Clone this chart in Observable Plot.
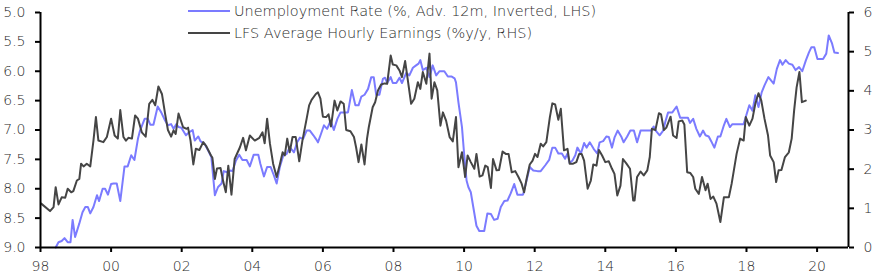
<!DOCTYPE html>
<html><head><meta charset="utf-8">
<script src="https://cdn.jsdelivr.net/npm/d3@7"></script>
<script src="https://cdn.jsdelivr.net/npm/@observablehq/plot@0.6"></script>
<style>
body{margin:0;background:#fff;}
#chart{position:relative;width:876px;height:276px;font-family:"DejaVu Sans",sans-serif;}
#chart svg text{fill:#2a2a2a;font-weight:200;}
.legend{position:absolute;left:188px;top:0;font-size:14.45px;color:#2a2a2a;font-family:"DejaVu Sans",sans-serif;font-weight:200;}
.legend .row{display:flex;align-items:center;height:22px;white-space:nowrap;}
.legend .sw{width:42px;height:2px;margin-right:4px;}
</style></head><body><div id="chart"></div>
<script>
const blue = "#7b7bff";
const gray = "#454545";
const xDomain = [1998, 2020.89];
const leftDomain = [5, 9];
const rightDomain = [0, 6];
const leftTicks = [5, 5.5, 6, 6.5, 7, 7.5, 8, 8.5, 9];
const rightTicks = [0, 1, 2, 3, 4, 5, 6];
const xTicks = [1998, 2000, 2002, 2004, 2006, 2008, 2010, 2012, 2014, 2016, 2018, 2020];
const legendLabels = ["Unemployment Rate (%, Adv. 12m, Inverted, LHS)", "LFS Average Hourly Earnings (%y/y, RHS)"];

// LFS Average Hourly Earnings (%y/y, RHS)
const earnDates = [1998.02,1998.27,1998.37,1998.43,1998.51,1998.60,1998.70,1998.77,1998.87,1998.93,1999.03,1999.10,1999.15,1999.22,1999.31,1999.41,1999.50,1999.57,1999.64,1999.78,1999.88,2000.00,2000.10,2000.19,2000.26,2000.35,2000.42,2000.49,2000.59,2000.68,2000.76,2000.87,2000.98,2001.08,2001.17,2001.25,2001.34,2001.44,2001.53,2001.61,2001.70,2001.77,2001.83,2001.91,2002.04,2002.14,2002.18,2002.25,2002.33,2002.40,2002.50,2002.61,2002.70,2002.83,2002.87,2002.94,2003.00,2003.10,2003.18,2003.25,2003.32,2003.41,2003.50,2003.65,2003.74,2003.82,2003.93,2004.07,2004.20,2004.29,2004.35,2004.42,2004.50,2004.59,2004.69,2004.78,2004.86,2004.92,2004.99,2005.06,2005.14,2005.23,2005.33,2005.42,2005.54,2005.61,2005.68,2005.80,2005.86,2005.93,2006.00,2006.09,2006.16,2006.23,2006.33,2006.41,2006.50,2006.59,2006.66,2006.78,2006.88,2006.94,2007.01,2007.09,2007.18,2007.25,2007.30,2007.41,2007.48,2007.56,2007.65,2007.75,2007.82,2007.92,2007.98,2008.08,2008.17,2008.24,2008.33,2008.40,2008.50,2008.59,2008.69,2008.76,2008.83,2008.93,2009.02,2009.08,2009.16,2009.24,2009.33,2009.40,2009.49,2009.59,2009.68,2009.77,2009.84,2009.94,2010.03,2010.10,2010.19,2010.29,2010.35,2010.44,2010.52,2010.60,2010.67,2010.76,2010.82,2010.92,2010.99,2011.09,2011.18,2011.26,2011.35,2011.45,2011.54,2011.63,2011.70,2011.77,2011.86,2011.94,2012.01,2012.08,2012.17,2012.24,2012.33,2012.43,2012.50,2012.58,2012.67,2012.74,2012.83,2012.93,2012.99,2013.09,2013.18,2013.26,2013.33,2013.40,2013.50,2013.59,2013.66,2013.75,2013.82,2013.91,2014.00,2014.10,2014.19,2014.26,2014.34,2014.43,2014.50,2014.60,2014.70,2014.79,2014.83,2014.90,2015.00,2015.09,2015.19,2015.26,2015.32,2015.42,2015.52,2015.58,2015.66,2015.73,2015.85,2015.92,2016.02,2016.08,2016.18,2016.24,2016.32,2016.41,2016.49,2016.55,2016.65,2016.74,2016.84,2016.90,2016.98,2017.06,2017.15,2017.26,2017.36,2017.50,2017.58,2017.72,2017.82,2017.92,2017.98,2018.08,2018.17,2018.25,2018.34,2018.42,2018.51,2018.61,2018.67,2018.77,2018.84,2018.91,2018.99,2019.09,2019.20,2019.28,2019.35,2019.42,2019.50,2019.57,2019.68];
const earnValues = [1.12,0.93,1.03,1.54,1.10,1.28,1.27,1.50,1.41,1.44,1.71,1.75,2.14,2.07,2.14,2.07,2.73,3.33,2.73,2.69,2.82,3.29,2.86,2.78,3.51,2.82,2.73,2.80,2.78,3.37,3.29,2.94,2.83,3.67,3.77,3.63,4.11,3.92,3.41,3.00,2.83,2.99,2.90,3.42,3.07,3.03,3.06,2.73,2.12,2.52,2.49,2.69,2.58,2.35,2.29,1.75,2.02,2.03,1.67,1.41,2.09,1.35,2.26,2.56,2.80,2.48,2.86,2.73,2.80,2.94,2.66,3.29,2.65,2.14,1.80,2.12,2.43,2.35,2.78,2.43,2.82,2.82,2.20,2.73,3.29,3.63,3.77,3.92,3.96,3.80,3.34,3.33,3.40,3.09,3.75,3.50,3.73,3.67,3.00,2.97,2.82,2.56,2.18,2.63,2.12,2.78,3.07,3.58,3.71,4.01,4.16,4.19,4.18,4.90,4.67,4.65,4.52,4.35,4.76,4.31,3.67,3.80,4.22,4.05,4.48,4.18,4.95,3.80,4.22,4.01,3.11,3.45,3.24,2.82,2.71,3.33,2.05,2.43,1.80,2.35,2.18,2.01,2.39,1.81,1.84,2.09,2.05,1.52,2.26,1.97,1.98,2.45,2.39,2.39,1.92,1.95,1.80,1.63,1.41,1.75,2.12,2.22,2.39,2.31,2.65,2.58,2.69,3.33,3.68,3.65,3.26,3.54,2.48,2.52,2.14,2.14,2.18,2.39,2.39,2.22,1.50,1.71,2.12,2.09,2.49,2.35,2.18,2.20,2.01,1.88,1.33,1.58,2.26,2.14,2.01,1.20,1.20,1.80,1.94,1.84,1.97,2.31,3.03,3.00,3.43,3.40,3.00,3.06,3.34,2.86,2.80,3.22,3.24,3.14,1.92,1.90,1.80,1.50,1.37,1.80,1.46,1.63,1.24,1.30,1.12,0.65,1.28,1.28,1.63,2.39,2.78,2.73,3.33,3.11,3.29,3.67,3.94,3.75,3.29,2.86,2.35,2.18,1.67,1.97,1.98,2.31,2.43,2.78,3.50,4.09,4.48,3.71,3.75];

// Unemployment Rate (%, Adv. 12m, Inverted, LHS)
const unempDates = [1998.43,1998.51,1998.60,1998.68,1998.77,1998.85,1998.91,1998.98,1999.10,1999.19,1999.27,1999.34,1999.41,1999.50,1999.60,1999.66,1999.76,1999.83,1999.91,2000.00,2000.07,2000.16,2000.26,2000.38,2000.47,2000.57,2000.66,2000.76,2000.82,2000.95,2001.04,2001.11,2001.20,2001.32,2001.42,2001.53,2001.61,2001.70,2001.77,2001.85,2001.91,2001.99,2002.12,2002.21,2002.31,2002.37,2002.47,2002.53,2002.65,2002.75,2002.84,2002.94,2003.03,2003.13,2003.19,2003.29,2003.38,2003.44,2003.53,2003.63,2003.72,2003.84,2003.93,2004.04,2004.17,2004.23,2004.33,2004.42,2004.52,2004.61,2004.69,2004.78,2004.88,2004.97,2005.06,2005.18,2005.27,2005.35,2005.44,2005.54,2005.63,2005.73,2005.80,2005.86,2005.95,2006.03,2006.12,2006.22,2006.31,2006.41,2006.50,2006.59,2006.71,2006.82,2006.92,2007.01,2007.09,2007.18,2007.28,2007.37,2007.44,2007.51,2007.60,2007.70,2007.76,2007.82,2007.92,2007.98,2008.08,2008.17,2008.24,2008.36,2008.45,2008.55,2008.64,2008.71,2008.76,2008.83,2008.93,2009.02,2009.11,2009.21,2009.30,2009.44,2009.54,2009.65,2009.73,2009.77,2009.84,2009.94,2010.00,2010.07,2010.12,2010.19,2010.26,2010.35,2010.43,2010.57,2010.66,2010.76,2010.85,2010.95,2011.04,2011.14,2011.23,2011.32,2011.42,2011.51,2011.67,2011.77,2011.86,2011.96,2012.08,2012.17,2012.30,2012.41,2012.50,2012.58,2012.67,2012.77,2012.86,2012.93,2012.99,2013.07,2013.15,2013.21,2013.31,2013.40,2013.47,2013.56,2013.67,2013.77,2013.84,2013.94,2014.03,2014.10,2014.19,2014.26,2014.35,2014.45,2014.52,2014.62,2014.71,2014.81,2014.90,2015.00,2015.19,2015.30,2015.37,2015.44,2015.54,2015.64,2015.71,2015.78,2015.90,2016.02,2016.12,2016.23,2016.34,2016.40,2016.49,2016.58,2016.68,2016.77,2016.84,2016.93,2017.00,2017.09,2017.19,2017.26,2017.36,2017.43,2017.53,2017.60,2017.72,2017.92,2017.98,2018.08,2018.17,2018.25,2018.34,2018.43,2018.51,2018.62,2018.77,2018.86,2018.95,2019.02,2019.11,2019.20,2019.30,2019.39,2019.49,2019.58,2019.68,2019.77,2019.84,2019.92,2020.01,2020.17,2020.26,2020.33,2020.42,2020.49,2020.59];
const unempValues = [9.00,8.91,8.89,8.84,8.91,8.91,8.53,8.82,8.59,8.40,8.31,8.31,8.42,8.31,8.11,8.21,8.00,8.00,8.10,7.92,7.91,7.91,8.21,7.62,7.62,7.43,7.51,7.15,7.01,6.81,6.81,6.91,6.91,6.60,6.70,6.84,6.92,6.90,6.98,6.90,6.95,6.96,7.09,7.04,7.00,7.18,7.11,7.19,7.24,7.35,7.46,8.11,7.97,7.91,7.70,7.72,7.69,7.70,7.53,7.42,7.51,7.51,7.62,7.42,7.42,7.58,7.79,7.63,7.63,7.77,7.91,7.63,7.43,7.41,7.29,7.38,7.21,7.13,7.15,7.01,7.01,7.09,7.15,7.21,7.06,6.92,6.98,6.84,7.00,6.81,6.70,6.70,6.70,6.32,6.58,6.58,6.43,6.40,6.30,6.10,6.10,6.40,6.40,6.13,6.11,6.20,6.10,6.20,6.20,6.11,6.20,6.03,6.07,5.94,5.90,5.87,5.81,5.98,5.94,6.10,5.90,6.07,6.00,6.00,6.09,6.09,6.12,6.19,6.53,6.95,7.40,7.86,7.97,8.06,8.31,8.63,8.72,8.72,8.42,8.43,8.53,8.51,8.31,8.21,8.20,8.08,7.92,8.10,8.10,7.86,7.63,7.69,7.70,7.70,7.60,7.51,7.30,7.30,7.40,7.40,7.49,7.40,7.56,7.52,7.43,7.30,7.40,7.22,7.30,7.21,7.32,7.40,7.21,7.19,7.11,7.12,7.30,7.13,7.01,7.11,7.21,7.11,7.01,7.01,7.21,7.01,7.01,7.01,6.94,7.02,7.09,7.01,6.84,6.70,6.70,6.60,6.79,6.79,6.79,6.88,6.81,6.98,7.11,7.01,7.09,7.11,7.19,7.30,7.11,7.11,6.92,6.81,6.95,6.90,6.90,6.90,6.78,6.58,6.67,6.41,6.61,6.36,6.24,6.10,6.21,5.96,5.81,5.89,5.81,5.87,5.89,5.98,5.93,6.00,5.82,5.68,5.59,5.59,5.79,5.79,5.70,5.39,5.52,5.68,5.69];

// map a right-axis value onto the left (inverted) scale
const toLeft = e => leftDomain[1] - (e - rightDomain[0]) * (leftDomain[1] - leftDomain[0]) / (rightDomain[1] - rightDomain[0]);
const fromLeft = u => rightDomain[0] + (leftDomain[1] - u) * (rightDomain[1] - rightDomain[0]) / (leftDomain[1] - leftDomain[0]);

const earnData = earnDates.map((t, i) => ({t, v: toLeft(earnValues[i])}));
const unempData = unempDates.map((t, i) => ({t, v: unempValues[i]}));

const axisStyle = {tickSize: 5, tickPadding: 10, strokeWidth: 2, stroke: "#000", label: null};

const plot = Plot.plot({
  width: 876, height: 276,
  marginLeft: 40, marginRight: 28, marginTop: 12, marginBottom: 29,
  style: {fontFamily: "'DejaVu Sans', sans-serif", fontSize: "14px", background: "#fff", color: "#000", overflow: "visible"},
  x: {domain: xDomain},
  y: {domain: [leftDomain[1], leftDomain[0]]},
  marks: [
    Plot.line(unempData, {x: "t", y: "v", stroke: blue, strokeWidth: 2}),
    Plot.line(earnData, {x: "t", y: "v", stroke: gray, strokeWidth: 2}),
    Plot.ruleX([xDomain[0], xDomain[1]], {stroke: "#000", strokeWidth: 2}),
    Plot.ruleY([leftDomain[1]], {stroke: "#000", strokeWidth: 2}),
    Plot.axisY(leftTicks, {...axisStyle, anchor: "left", tickFormat: d => d.toFixed(1)}),
    Plot.axisY(rightTicks.map(toLeft), {...axisStyle, anchor: "right", tickFormat: u => String(Math.round(fromLeft(u)))}),
    Plot.axisX(xTicks, {...axisStyle, tickPadding: 9, anchor: "bottom", tickFormat: d => String(d % 100).padStart(2, "0")})
  ]
});
const chart = document.getElementById("chart");
chart.appendChild(plot);

const legend = document.createElement("div");
legend.className = "legend";
[[blue, legendLabels[0]], [gray, legendLabels[1]]].forEach(([c, label]) => {
  const row = document.createElement("div");
  row.className = "row";
  const sw = document.createElement("span");
  sw.className = "sw";
  sw.style.background = c;
  const tx = document.createElement("span");
  tx.textContent = label;
  row.appendChild(sw); row.appendChild(tx);
  legend.appendChild(row);
});
chart.appendChild(legend);
</script></body></html>
